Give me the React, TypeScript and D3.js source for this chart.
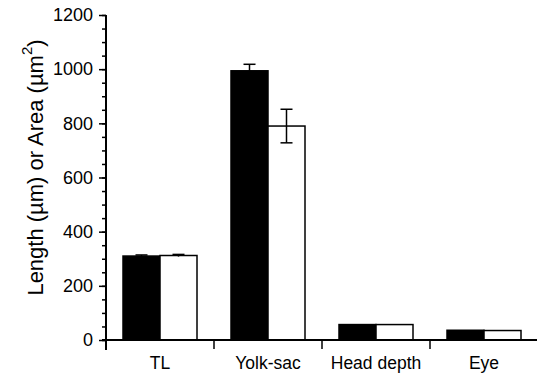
import React, { useEffect, useRef } from 'react';
import * as d3 from 'd3';

const width = 537;
const height = 373;
const margin = { left: 106, right: 0, top: 15, bottom: 33 };

const categories = ['TL', 'Yolk-sac', 'Head depth', 'Eye'];
const series = ['black', 'white'];
const blackValues = [310, 994, 57, 36];
const blackErrors = [4, 24, 0, 0];
const whiteValues = [312, 790, 57, 35];
const whiteErrors = [4, 62, 0, 0];
const yTicks = [0, 200, 400, 600, 800, 1000, 1200];

const font = 'Arial, "Liberation Sans", Helvetica, sans-serif';

export default function App() {
  const ref = useRef<SVGSVGElement>(null);

  useEffect(() => {
    const svg = d3.select(ref.current);
    svg.selectAll('*').remove();

    const plotBottom = height - margin.bottom; // ~340
    const y = d3.scaleLinear().domain([0, 1200]).range([plotBottom, margin.top]);
    const x = d3.scaleBand<string>()
      .domain(categories)
      .range([margin.left, margin.left + 108 * categories.length]);
    const xSub = d3.scaleBand<string>()
      .domain(series)
      .range([17, x.bandwidth() - 17]);

    const rows = categories.map((c, i) => ({
      c,
      bars: [
        { s: 'black', v: blackValues[i], e: blackErrors[i] },
        { s: 'white', v: whiteValues[i], e: whiteErrors[i] },
      ],
    }));

    // bars
    const groups = svg.append('g')
      .selectAll('g')
      .data(rows)
      .enter().append('g')
      .attr('transform', d => `translate(${x(d.c)},0)`);

    groups.selectAll('rect')
      .data(d => d.bars)
      .enter().append('rect')
      .attr('x', d => xSub(d.s)!)
      .attr('y', d => y(d.v))
      .attr('width', xSub.bandwidth())
      .attr('height', d => plotBottom - y(d.v))
      .attr('fill', d => (d.s === 'black' ? '#000' : '#fff'))
      .attr('stroke', '#000')
      .attr('stroke-width', 1.5);

    // error bars (upper and lower whiskers)
    const err = groups.selectAll('g.err')
      .data(d => d.bars.filter(b => b.e > 0))
      .enter().append('g')
      .attr('class', 'err')
      .attr('stroke', '#000')
      .attr('stroke-width', 1.5);
    err.append('line')
      .attr('x1', d => xSub(d.s)! + xSub.bandwidth() / 2)
      .attr('x2', d => xSub(d.s)! + xSub.bandwidth() / 2)
      .attr('y1', d => y(d.v + d.e))
      .attr('y2', d => y(d.v - d.e));
    err.append('line')
      .attr('x1', d => xSub(d.s)! + xSub.bandwidth() / 2 - 6)
      .attr('x2', d => xSub(d.s)! + xSub.bandwidth() / 2 + 6)
      .attr('y1', d => y(d.v + d.e))
      .attr('y2', d => y(d.v + d.e));
    err.filter(d => d.e > 10).append('line')
      .attr('x1', d => xSub(d.s)! + xSub.bandwidth() / 2 - 6)
      .attr('x2', d => xSub(d.s)! + xSub.bandwidth() / 2 + 6)
      .attr('y1', d => y(d.v - d.e))
      .attr('y2', d => y(d.v - d.e));

    // y axis minor ticks
    const yMinor = svg.append('g')
      .attr('transform', `translate(${margin.left},0)`)
      .call(d3.axisLeft(y).tickValues(d3.range(0, 1201, 50)).tickSize(4).tickFormat(() => ''));
    yMinor.select('path').remove();
    yMinor.selectAll('line').attr('stroke-width', 1.5);

    // y axis major
    const yAxis = svg.append('g')
      .attr('transform', `translate(${margin.left},0)`)
      .call(d3.axisLeft(y).tickValues(yTicks).tickSize(7).tickSizeOuter(0).tickPadding(6).tickFormat(d3.format('d')));
    yAxis.select('path').remove();
    yAxis.selectAll('line').attr('stroke-width', 1.5);
    yAxis.selectAll('text')
      .attr('font-family', font)
      .attr('font-size', 18)
      .attr('fill', '#000');
    svg.append('line')
      .attr('x1', margin.left).attr('x2', margin.left)
      .attr('y1', y(1200)).attr('y2', plotBottom + 10)
      .attr('stroke', '#000').attr('stroke-width', 2);

    // x axis
    svg.append('line')
      .attr('x1', margin.left - 4).attr('x2', width)
      .attr('y1', plotBottom).attr('y2', plotBottom)
      .attr('stroke', '#000').attr('stroke-width', 2);
    svg.append('g')
      .selectAll('line')
      .data(categories)
      .enter().append('line')
      .attr('x1', d => x(d)!).attr('x2', d => x(d)!)
      .attr('y1', plotBottom).attr('y2', plotBottom + 9)
      .attr('stroke', '#000').attr('stroke-width', 1.5);
    const xAxis = svg.append('g')
      .attr('transform', `translate(0,${plotBottom})`)
      .call(d3.axisBottom(x).tickSize(0).tickPadding(17));
    xAxis.select('path').remove();
    xAxis.selectAll('text')
      .attr('font-family', font)
      .attr('font-size', 17.5)
      .attr('fill', '#000');

    // y label
    const title = svg.append('text')
      .attr('transform', `translate(35,${(margin.top + plotBottom) / 2 - 10}) rotate(-90)`)
      .attr('text-anchor', 'middle')
      .attr('dominant-baseline', 'central')
      .attr('font-family', font)
      .attr('font-size', 22)
      .attr('fill', '#000');
    title.append('tspan').text('Length (\u00b5m) or Area (\u00b5m');
    title.append('tspan').attr('baseline-shift', 'super').attr('font-size', 15).text('2');
    title.append('tspan').text(')');
  }, []);

  return (
    <svg
      ref={ref}
      width={width}
      height={height}
      style={{ position: 'fixed', left: 0, top: 0, background: '#fff' }}
    />
  );
}
